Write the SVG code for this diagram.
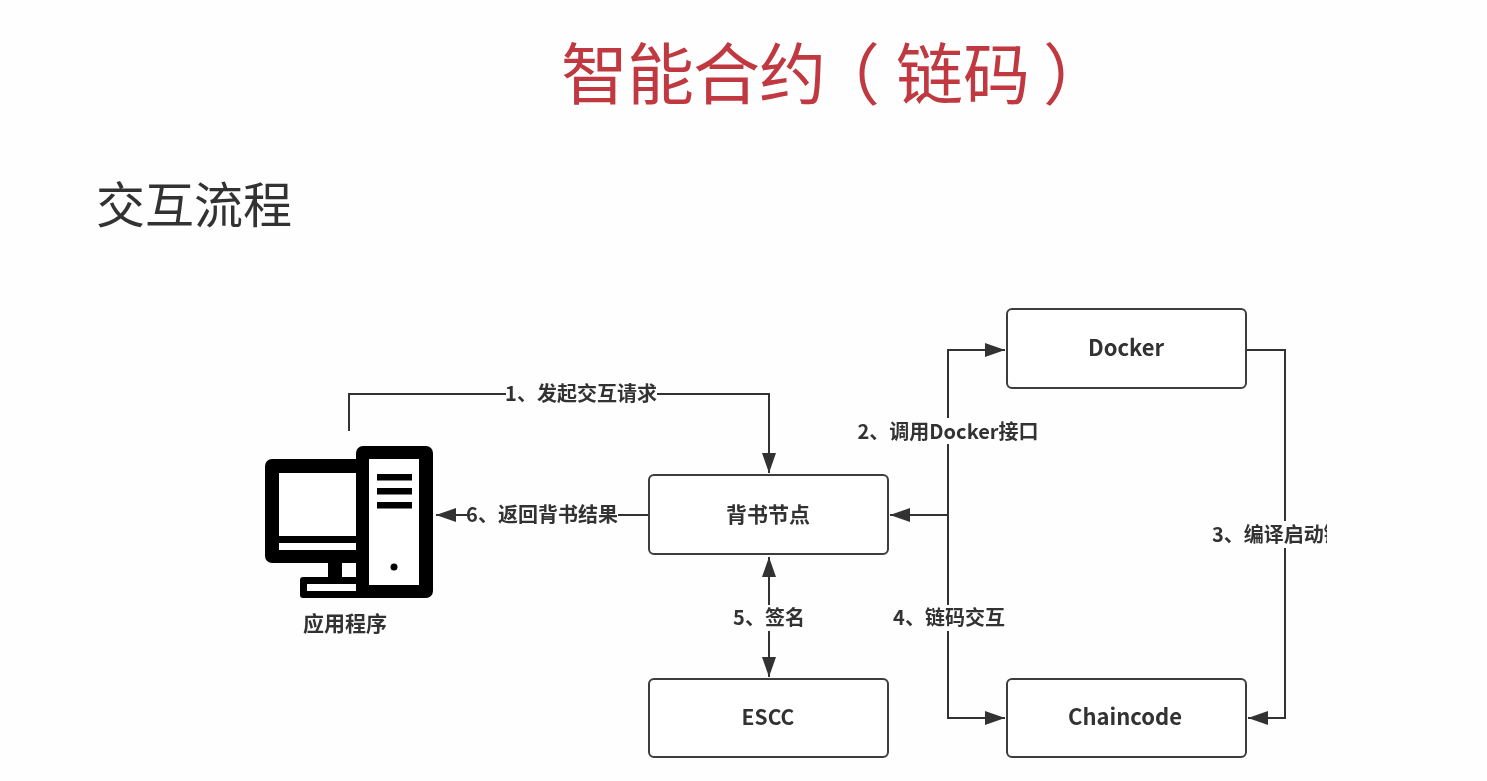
<svg xmlns="http://www.w3.org/2000/svg" width="1487" height="781" viewBox="0 0 1487 781">
<style>
text{font-family:"Noto Sans CJK SC","Noto Sans",sans-serif}
.box{fill:#fff;stroke:#3c3c3c;stroke-width:2}
.lbl{font-size:20px;font-weight:700;fill:#333;text-anchor:middle}
.node{font-size:21px;font-weight:700;fill:#333;text-anchor:middle}
.ln{fill:none;stroke:#333;stroke-width:2}
.bg{fill:#fefefe}
</style>
<defs>
<marker id="a" markerUnits="userSpaceOnUse" markerWidth="22" markerHeight="14" refX="20" refY="7" orient="auto-start-reverse"><path d="M0 0L20 7L0 14L0 0Z" fill="#333"/></marker>
<clipPath id="c3"><rect x="1200" y="515" width="127" height="40"/></clipPath>
<filter id="s" x="-5%" y="-5%" width="110%" height="110%"><feGaussianBlur stdDeviation="0.5"/></filter>
</defs>
<rect width="1487" height="781" fill="#fefefe"/>
<g filter="url(#s)">
<g id="title"><text x="561 627 693 759 813 896 963 1043" y="99" font-size="67" fill="#c0373f">智能合约（链码）</text></g>
<g id="subtitle"><text x="96" y="223" font-size="49" fill="#333">交互流程</text></g>
<g id="connectors">
<path class="ln" d="M349 431V394H769V473" marker-end="url(#a)"/>
<path class="ln" d="M649 515H436" marker-end="url(#a)"/>
<path class="ln" d="M948 515H890" marker-end="url(#a)"/>
<path class="ln" d="M948 515V350H1005" marker-end="url(#a)"/>
<path class="ln" d="M948 515V718H1005" marker-end="url(#a)"/>
<path class="ln" d="M1247 350H1285V718H1248" marker-end="url(#a)"/>
<path class="ln" d="M769 557V677" marker-start="url(#a)" marker-end="url(#a)"/>
<rect class="bg" x="506" y="382" width="151" height="24"/>
<text class="lbl" x="581" y="401">1、发起交互请求</text>
<rect class="bg" x="857" y="418" width="182" height="26"/>
<text class="lbl" x="948" y="439">2、调用Docker接口</text>
<rect class="bg" x="1210" y="521" width="117" height="27"/>
<g clip-path="url(#c3)"><text class="lbl" x="1212" y="542" style="text-anchor:start">3、编译启动链</text></g>
<rect class="bg" x="893" y="605" width="112" height="26"/>
<text class="lbl" x="949" y="625">4、链码交互</text>
<rect class="bg" x="732" y="605" width="74" height="26"/>
<text class="lbl" x="769" y="625">5、签名</text>
<rect class="bg" x="467" y="503" width="151" height="24"/>
<text class="lbl" x="542" y="522">6、返回背书结果</text>
</g>
<g id="docker"><rect class="box" x="1007" y="309" width="239" height="79" rx="5"/><text class="node" x="1126" y="356" style="font-size:22px">Docker</text></g>
<g id="endorser"><rect class="box" x="649" y="475" width="239" height="79" rx="5"/><text class="node" x="768" y="522">背书节点</text></g>
<g id="escc"><rect class="box" x="649" y="679" width="239" height="78" rx="5"/><text class="node" x="768" y="725">ESCC</text></g>
<g id="chaincode"><rect class="box" x="1007" y="679" width="239" height="78" rx="5"/><text class="node" x="1125" y="725" style="font-size:22px">Chaincode</text></g>
<g id="app">
<rect x="265" y="459" width="100" height="104" rx="7" fill="#000"/>
<rect x="356" y="446" width="77" height="152" rx="7" fill="#000"/>
<rect x="328" y="560" width="14" height="20" fill="#000"/>
<rect x="300" y="577" width="70" height="21" rx="3" fill="#000"/>
<rect x="279" y="473" width="77" height="63" fill="#fff"/>
<rect x="279" y="543" width="77" height="7" fill="#fff"/>
<rect x="342" y="563" width="14" height="14" fill="#fff"/>
<rect x="307" y="584" width="49" height="7" fill="#fff"/>
<rect x="369" y="459" width="50" height="126" fill="#fff"/>
<rect x="377" y="474" width="35" height="6.500" fill="#000"/>
<rect x="377" y="488" width="35" height="6.500" fill="#000"/>
<rect x="377" y="502" width="35" height="6.500" fill="#000"/>
<circle cx="394" cy="567" r="3.500" fill="#000"/>
<text class="lbl" x="345" y="631" style="font-size:21px">应用程序</text>
</g>
</g>
</svg>
